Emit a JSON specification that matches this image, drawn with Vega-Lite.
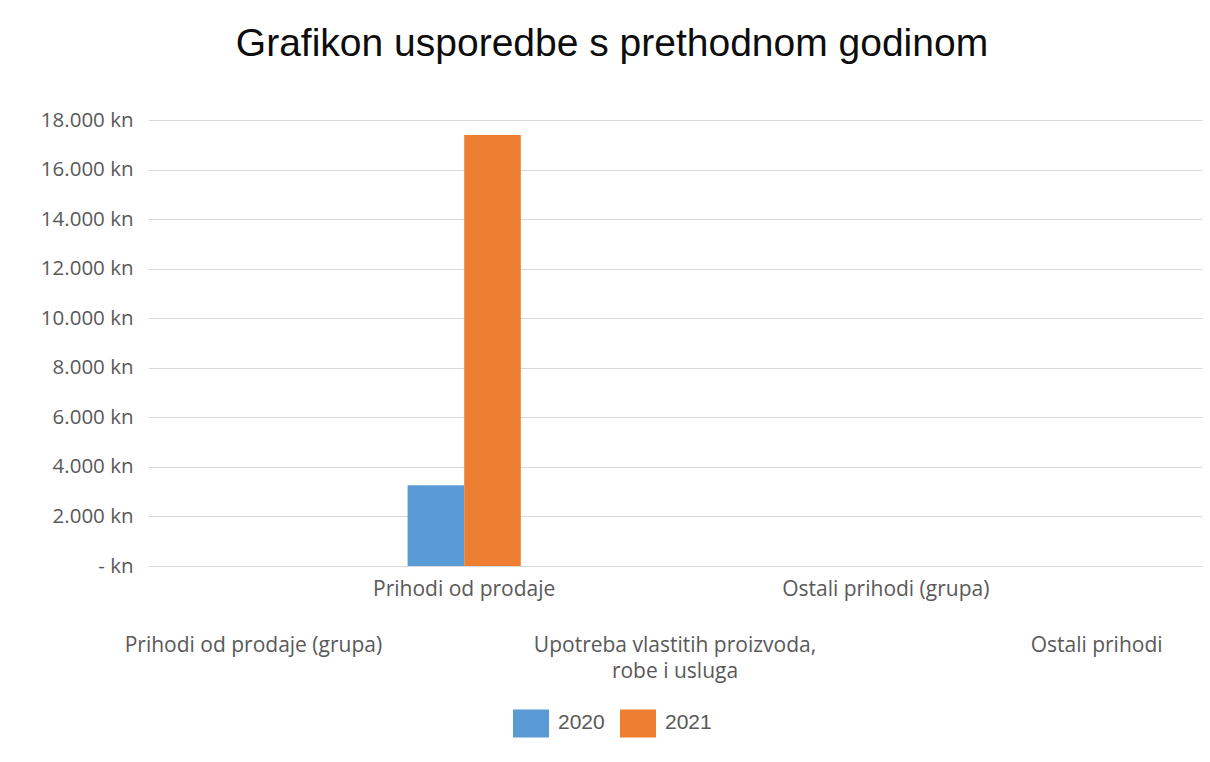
{
  "$schema": "https://vega.github.io/schema/vega-lite/v6.json",
  "autosize": "none",
  "width": 1054,
  "height": 446,
  "padding": {"left": 148, "top": 120, "right": 8, "bottom": 196},
  "background": "white",
  "title": {
    "text": "Grafikon usporedbe s prethodnom godinom",
    "font": "Liberation Sans",
    "fontSize": 39,
    "fontWeight": "normal",
    "color": "#0d0d0d",
    "anchor": "middle",
    "dx": -63,
    "offset": 46
  },
  "data": {
    "values": [
      {"kategorija": "Prihodi od prodaje", "godina": "2020", "iznos": 3257},
      {"kategorija": "Prihodi od prodaje", "godina": "2021", "iznos": 17395}
    ]
  },
  "mark": {"type": "bar"},
  "encoding": {
    "x": {
      "field": "kategorija",
      "type": "nominal",
      "sort": null,
      "scale": {
        "domain": ["Prihodi od prodaje (grupa)", "Prihodi od prodaje", "Upotreba vlastitih proizvoda, robe i usluga", "Ostali prihodi (grupa)", "Ostali prihodi"],
        "paddingInner": 0.463,
        "paddingOuter": 0.2315
      },
      "axis": {
        "title": null,
        "domain": false,
        "ticks": false,
        "grid": false,
        "labelAngle": 0,
        "labelAlign": "center",
        "labelBaseline": "top",
        "labelPadding": {"condition": {"test": "datum.value == 'Prihodi od prodaje' || datum.value == 'Ostali prihodi (grupa)'", "value": 12}, "value": 68},
        "labelLineHeight": 26,
        "labelLimit": 0,
        "labelOverlap": false,
        "labelFont": "Open Sans",
        "labelFontSize": 21,
        "labelColor": "#595959",
        "labelExpr": "datum.value == 'Upotreba vlastitih proizvoda, robe i usluga' ? ['Upotreba vlastitih proizvoda,', 'robe i usluga'] : datum.label"
      }
    },
    "xOffset": {
      "field": "godina",
      "type": "nominal",
      "scale": {"domain": ["2020", "2021"], "paddingInner": 0, "paddingOuter": 0}
    },
    "y": {
      "field": "iznos",
      "type": "quantitative",
      "scale": {"domain": [0, 18000], "nice": false},
      "axis": {
        "title": null,
        "domain": false,
        "ticks": false,
        "tickSize": 0,
        "values": [0, 2000, 4000, 6000, 8000, 10000, 12000, 14000, 16000, 18000],
        "grid": true,
        "gridColor": "#D9D9D9",
        "gridWidth": 1,
        "labelPadding": 15,
        "labelFont": "Open Sans",
        "labelFontSize": 20.5,
        "labelColor": "#595959",
        "labelExpr": "datum.value == 0 ? '- kn' : replace(format(datum.value, ','), ',', '.') + ' kn'"
      }
    },
    "color": {
      "field": "godina",
      "type": "nominal",
      "scale": {"domain": ["2020", "2021"], "range": ["#5B9BD5", "#ED7D31"]},
      "legend": {
        "title": null,
        "orient": "none",
        "direction": "horizontal",
        "legendX": 365,
        "legendY": 585,
        "symbolType": "M-1,-0.78H1V0.78H-1Z",
        "symbolSize": 1296,
        "symbolStrokeWidth": 0,
        "symbolOpacity": 1,
        "labelFont": "Liberation Sans",
        "labelFontSize": 21,
        "labelColor": "#595959",
        "labelOffset": 9,
        "columnPadding": 15
      }
    }
  },
  "config": {
    "view": {"stroke": null}
  }
}
